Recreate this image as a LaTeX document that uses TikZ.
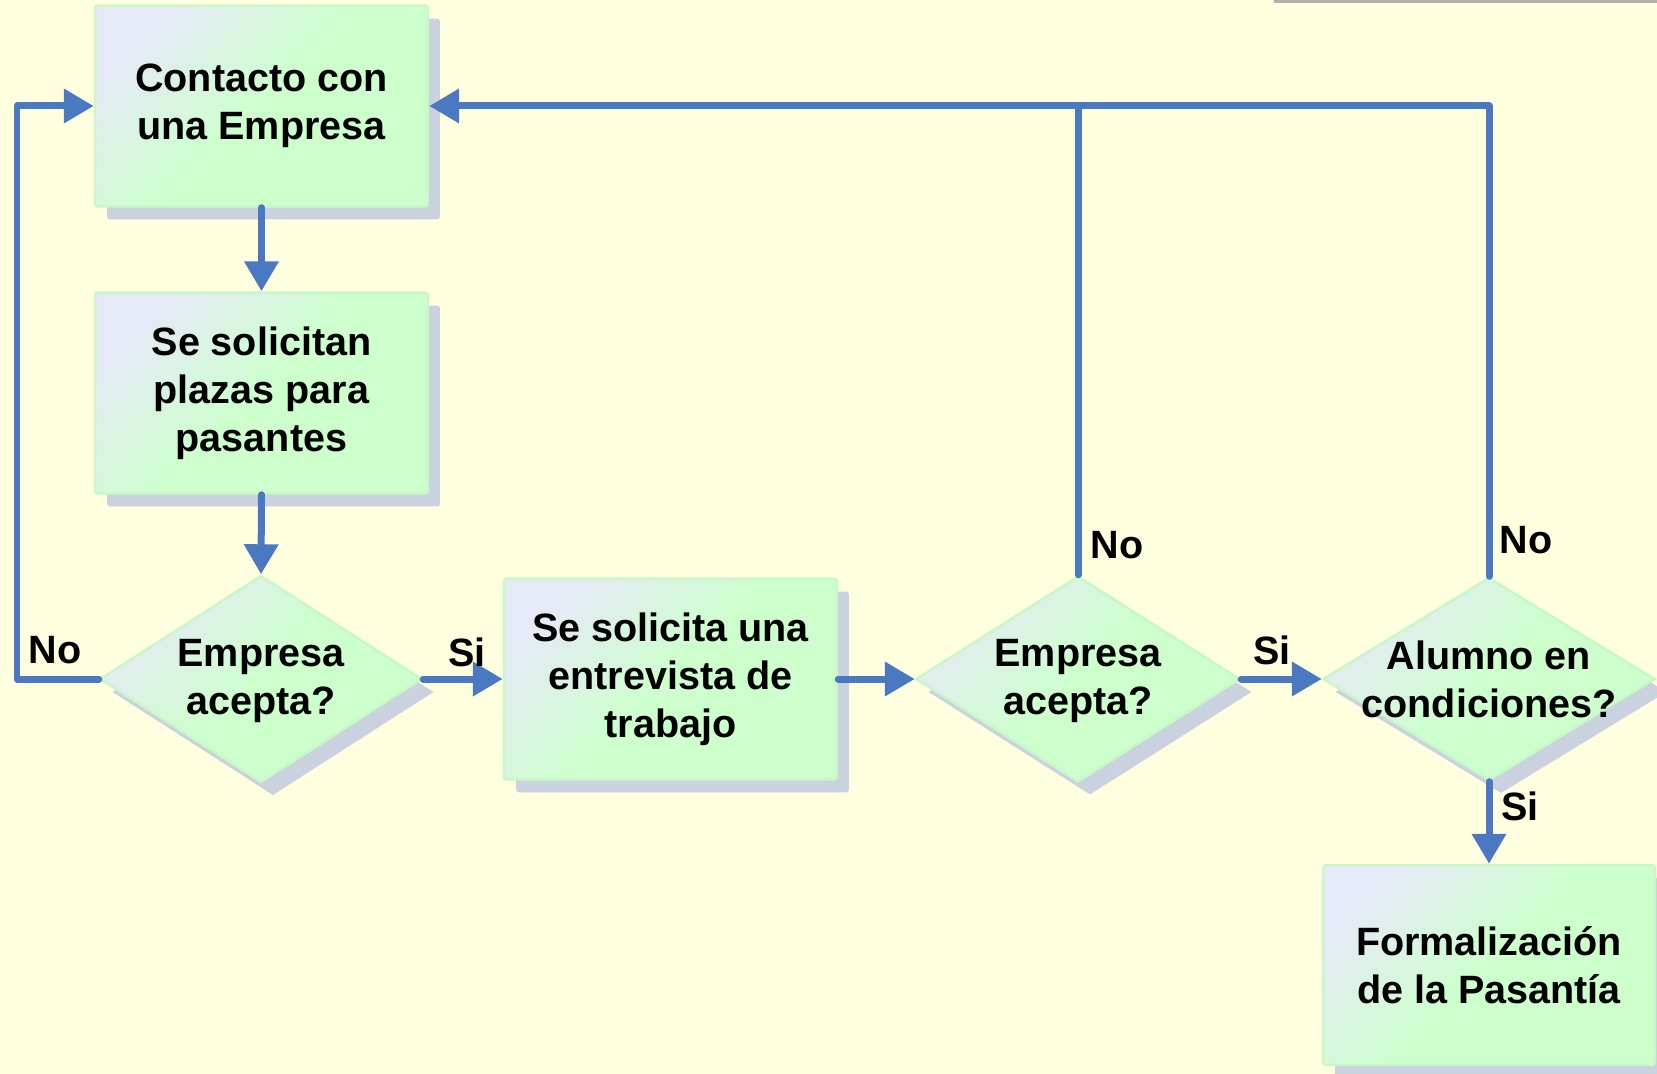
\documentclass[tikz,border=0pt]{standalone}
\usepackage{fontspec}
\setmainfont{Liberation Sans}
\usetikzlibrary{shapes.geometric,arrows.meta,shadows}

\definecolor{fondo}{RGB}{255,255,224}
\definecolor{azul}{RGB}{74,120,193}
\definecolor{verde}{RGB}{204,255,204}
\definecolor{lila}{RGB}{230,234,246}
\definecolor{borde}{RGB}{200,248,200}
\definecolor{sombra}{RGB}{202,210,224}
\definecolor{gris}{RGB}{176,176,176}

\newcommand{\letra}{\fontsize{22.5}{27.3}\selectfont\bfseries}

\tikzset{
  caja/.style={rectangle, rounded corners=0.06cm, draw=borde, line width=0.05cm,
    top color=lila, bottom color=verde, middle color=verde, shading angle=45,
    minimum width=6.66cm, minimum height=4.02cm, align=center, font=\letra,
    drop shadow={shadow xshift=0.24cm, shadow yshift=-0.26cm, fill=sombra, opacity=1}},
  rombo/.style={diamond, draw=borde, line width=0.05cm, inner sep=0pt,
    top color=lila, bottom color=verde, middle color=verde, shading angle=45,
    drop shadow={shadow xshift=0.24cm, shadow yshift=-0.26cm, fill=sombra, opacity=1}},
  texto/.style={font=\letra, align=center},
  linea/.style={draw=azul, line width=0.14cm, line cap=round, line join=round},
  flecha/.style={linea, -{Triangle[length=0.6cm,width=0.66cm]}},
  etiq/.style={font=\letra, anchor=base},
}

\begin{document}
\begin{tikzpicture}[x=0.02cm, y=-0.02cm]
\fill[fondo] (0,0) rectangle (1657,1074);
\useasboundingbox (0,0) rectangle (1657,1074);
\fill[gris] (1274,0) rectangle (1657,3);

% cajas
\node[caja] (box1) at (261.5,106) {Contacto con\\una Empresa};
\node[caja] (box2) at (261.5,393) {Se solicitan\\plazas para\\pasantes};
\node[caja] (box3) at (670.5,679) {Se solicita una\\entrevista de\\trabajo};
\node[caja, minimum width=6.64cm, minimum height=4cm] (box4) at (1489,965) {Formalizaci\'on\\de la Pasant\'ia};

% decisiones
\node[rombo, minimum width=6.44cm, minimum height=4.14cm] (d1) at (261,679) {};
\node[texto] (d1t) at ([yshift=-0.04cm]d1) {Empresa\\acepta?};
\node[rombo, minimum width=6.48cm, minimum height=4.12cm] (d2) at (1078,679) {};
\node[texto] (d2t) at ([yshift=-0.04cm]d2) {Empresa\\acepta?};
\node[rombo, minimum width=6.64cm, minimum height=4.06cm] (d3) at (1489,679) {};
\node[texto] (d3t) at (d3) {Alumno en\\condiciones?};

% conectores
\coordinate (esq) at (17,679);
\draw[flecha] (box1.south) -- (box2.north);
\draw[flecha] (box2.south) -- (d1.north);
\draw[flecha] (d1.east) -- (box3.west);
\draw[flecha] (box3.east) -- (d2.west);
\draw[flecha] (d2.east) -- (d3.west);
\draw[flecha] (d3.south) -- (box4.north);
\draw[flecha] (d1.west) -- (esq) |- (box1.west);
\draw[flecha] (d3.north) |- (box1.east);
\draw[linea] (d2.north) -- (d2.north |- box1.east);

% etiquetas
\node[etiq] (no1) at (55,663) {No};
\node[etiq] (si1) at (467,666) {Si};
\node[etiq] (no2) at (1117,558) {No};
\node[etiq] (si2) at (1272,664) {Si};
\node[etiq] (no3) at (1526,553) {No};
\node[etiq] (si3) at (1520,820) {Si};
\end{tikzpicture}
\end{document}
